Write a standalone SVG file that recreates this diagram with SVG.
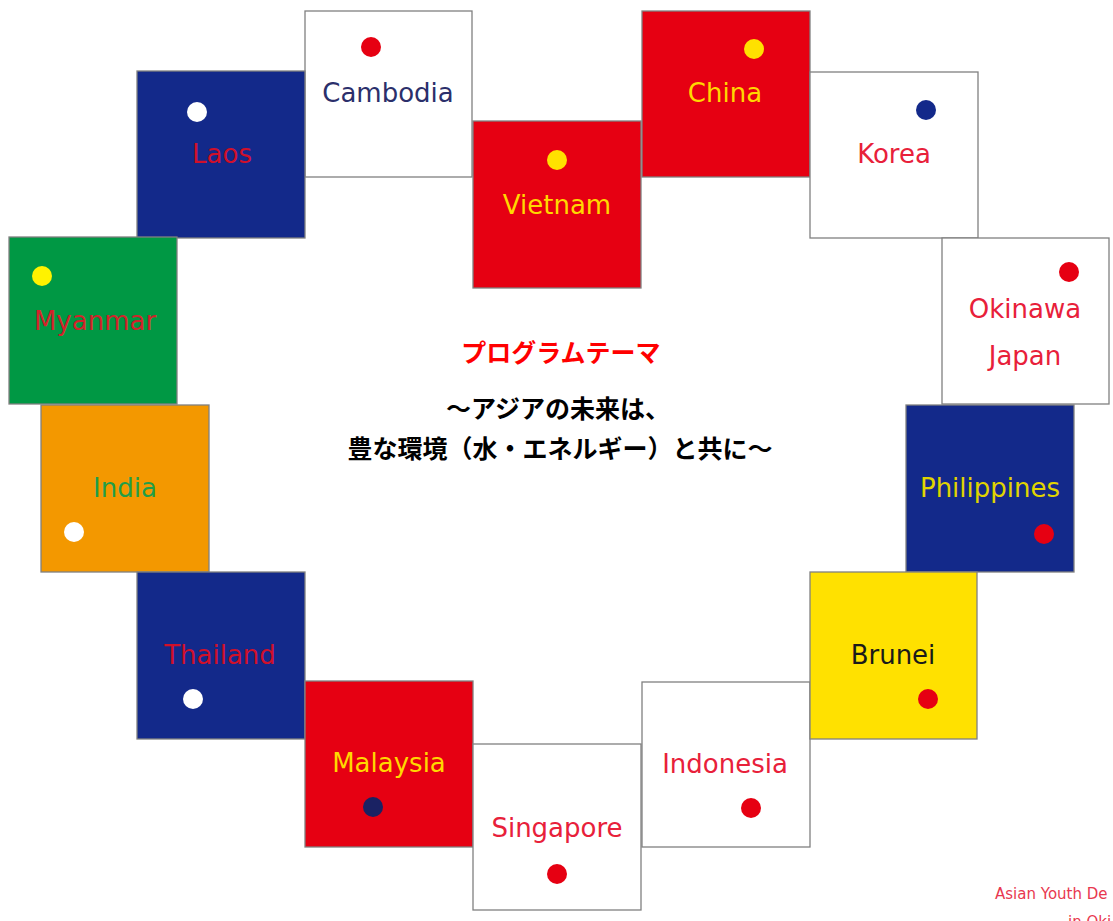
<svg xmlns="http://www.w3.org/2000/svg" width="1113" height="921" viewBox="0 0 1113 921">
<style>
.b{stroke:#808080;stroke-width:1.3}
.t{font-family:"DejaVu Sans",Verdana,sans-serif;font-size:26px;text-anchor:middle}
.jp{font-family:"Noto Sans CJK JP","Noto Sans CJK SC",sans-serif;font-size:25px;font-weight:bold;text-anchor:middle}
.red{fill:#e60012}.navy{fill:#13298a}.grn{fill:#009844}.org{fill:#f39800}.yel{fill:#ffe100}.wht{fill:#ffffff}
</style>
<rect width="1113" height="921" fill="#ffffff"/>
<g id="cambodia"><rect class="b wht" x="305" y="11" width="167" height="166"/><circle cx="371" cy="47" r="10" fill="#e60012"/><text class="t" x="388" y="102" fill="#2b2f6b">Cambodia</text></g>
<g id="laos"><rect class="b navy" x="137" y="71" width="168" height="167"/><circle cx="197" cy="112" r="10" fill="#ffffff"/><text class="t" x="222" y="163" fill="#d0102a">Laos</text></g>
<g id="vietnam"><rect class="b red" x="473" y="121" width="168" height="167"/><circle cx="557" cy="160" r="10" fill="#ffe100"/><text class="t" x="557" y="214" fill="#ffd800">Vietnam</text></g>
<g id="china"><rect class="b red" x="642" y="11" width="168" height="166"/><circle cx="754" cy="49" r="10" fill="#ffe100"/><text class="t" x="725" y="102" fill="#ffd800">China</text></g>
<g id="korea"><rect class="b wht" x="810" y="72" width="168" height="166"/><circle cx="926" cy="110" r="10" fill="#13298a"/><text class="t" x="894" y="163" fill="#e8203a">Korea</text></g>
<g id="okinawa"><rect class="b wht" x="942" y="238" width="167" height="166"/><circle cx="1069" cy="272" r="10" fill="#e60012"/><text class="t" x="1025" y="318" fill="#e8203a">Okinawa</text><text class="t" x="1025" y="365" fill="#e8203a">Japan</text></g>
<g id="myanmar"><rect class="b grn" x="9" y="237" width="168" height="167"/><circle cx="42" cy="276" r="10" fill="#fff200"/><text class="t" x="95" y="330" fill="#d2232a">Myanmar</text></g>
<g id="india"><rect class="b org" x="41" y="405" width="168" height="167"/><circle cx="74" cy="532" r="10" fill="#ffffff"/><text class="t" x="125" y="497" fill="#1f9e48">India</text></g>
<g id="philippines"><rect class="b navy" x="906" y="405" width="168" height="167"/><circle cx="1044" cy="534" r="10" fill="#e60012"/><text class="t" x="990" y="497" fill="#e0d400">Philippines</text></g>
<g id="thailand"><rect class="b navy" x="137" y="572" width="168" height="167"/><circle cx="193" cy="699" r="10" fill="#ffffff"/><text class="t" x="220" y="664" fill="#d0102a">Thailand</text></g>
<g id="malaysia"><rect class="b red" x="305" y="681" width="168" height="166"/><circle cx="373" cy="807" r="10" fill="#1a2263"/><text class="t" x="389" y="772" fill="#ffd800">Malaysia</text></g>
<g id="singapore"><rect class="b wht" x="473" y="744" width="168" height="166"/><circle cx="557" cy="874" r="10" fill="#e60012"/><text class="t" x="557" y="837" fill="#e8203a">Singapore</text></g>
<g id="indonesia"><rect class="b wht" x="642" y="682" width="168" height="165"/><circle cx="751" cy="808" r="10" fill="#e60012"/><text class="t" x="725" y="773" fill="#e8203a">Indonesia</text></g>
<g id="brunei"><rect class="b yel" x="810" y="572" width="167" height="167"/><circle cx="928" cy="699" r="10" fill="#e60012"/><text class="t" x="893" y="664" fill="#1a1a1a">Brunei</text></g>
<g id="theme">
<text class="jp" x="561" y="362" fill="#ff0000">プログラムテーマ</text>
<text class="jp" x="558" y="418" fill="#000000">～アジアの未来は、</text>
<text class="jp" x="560" y="458" fill="#000000">豊な環境（水・エネルギー）と共に～</text>
</g>
<g id="credit" font-family="'DejaVu Sans',sans-serif" font-size="15" fill="#e8384f">
<text x="995" y="899">Asian Youth De</text>
<text x="1068" y="927">in Oki</text>
</g>
<g id="connectors"/>
</svg>
